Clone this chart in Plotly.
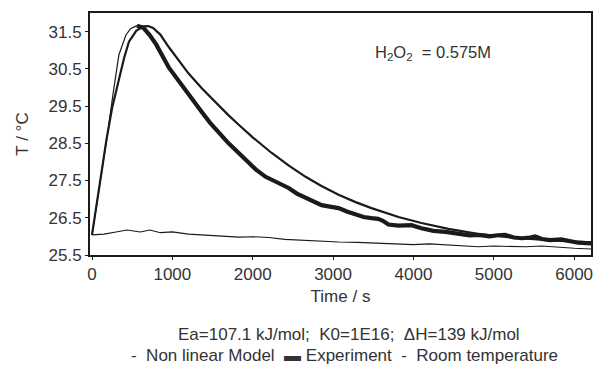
import plotly.graph_objects as go

# ---- data ----
model_time = [0, 60, 120, 180, 250, 335, 400, 460, 550, 640, 700, 760, 850, 957, 1100, 1200,
              1366, 1500, 1600, 1700, 1826, 2000, 2236, 2450, 2658, 2850, 3068, 3280, 3478,
              3700, 3814, 4100, 4435, 4800, 5217, 5700, 6211]
model_temp = [26.04, 26.9, 27.8, 28.6, 29.45, 30.26, 30.8, 31.23, 31.52, 31.64, 31.65, 31.6,
              31.42, 31.08, 30.65, 30.38, 29.98, 29.68, 29.46, 29.25, 29.0, 28.66, 28.24, 27.9,
              27.6, 27.36, 27.12, 26.92, 26.76, 26.6, 26.52, 26.36, 26.2, 26.07, 25.97, 25.89,
              25.84]

exp_time = [0, 60, 110, 149, 200, 260, 335, 422, 480, 560, 640, 720, 800, 957, 1100, 1250,
            1366, 1470, 1578, 1700, 1826, 1950, 2037, 2161, 2236, 2340, 2447, 2550, 2658, 2760,
            2857, 2960, 3068, 3180, 3280, 3380, 3478, 3560, 3620, 3689, 3814, 3975, 4100, 4250,
            4398, 4550, 4700, 4807, 4950, 5050, 5143, 5250, 5350, 5450, 5515, 5600, 5700, 5839,
            5950, 6050, 6211]
exp_temp = [26.04, 26.85, 27.55, 28.05, 28.85, 29.8, 30.88, 31.41, 31.58, 31.66, 31.6, 31.4,
            31.15, 30.53, 30.1, 29.68, 29.34, 29.05, 28.78, 28.5, 28.24, 27.97, 27.8, 27.6,
            27.52, 27.42, 27.3, 27.15, 27.03, 26.93, 26.84, 26.8, 26.76, 26.66, 26.58, 26.52,
            26.49, 26.47, 26.42, 26.32, 26.29, 26.3, 26.22, 26.15, 26.12, 26.07, 26.03, 26.04,
            26.0, 26.03, 26.04, 25.97, 25.95, 25.97, 26.0, 25.93, 25.9, 25.92, 25.86, 25.83,
            25.81]

room_time = [0, 150, 300, 435, 600, 720, 850, 1000, 1200, 1330, 1500, 1700, 1826, 2000, 2200,
             2400, 2571, 2800, 3068, 3300, 3478, 3650, 3814, 4000, 4200, 4398, 4600, 4807,
             5000, 5200, 5400, 5600, 5800, 6000, 6211]
room_temp = [26.04, 26.06, 26.12, 26.17, 26.12, 26.17, 26.1, 26.12, 26.06, 26.04, 26.02, 26.0,
             25.98, 25.99, 25.97, 25.92, 25.9, 25.87, 25.85, 25.84, 25.82, 25.8, 25.8, 25.78,
             25.8, 25.77, 25.75, 25.72, 25.74, 25.73, 25.72, 25.74, 25.7, 25.68, 25.66]

y_ticks = [25.5, 26.5, 27.5, 28.5, 29.5, 30.5, 31.5]
x_ticks = [0, 1000, 2000, 3000, 4000, 5000, 6000]

conc_label = "H<sub>2</sub>O<sub>2</sub>  = 0.575M"
param_label = "Ea=107.1 kJ/mol;  K0=1E16;  \u0394H=139 kJ/mol"
legend_label = "-  Non linear Model  \u25ac Experiment  -  Room temperature"

LINE = "#1a1a1a"
TEXT = "#333333"
FONT = "Arial, Liberation Sans, sans-serif"

# figure geometry (pixels)
W, H = 594, 371
ML, MR, MT, MB = 90, 1, 13, 116
PW, PH = W - ML - MR, H - MT - MB


def px_to_paper(xp, yp):
    return (xp - ML) / PW, (H - MB - yp) / PH


peak = exp_temp.index(max(exp_temp))

fig = go.Figure()
fig.add_trace(go.Scatter(x=room_time, y=room_temp, mode="lines",
                         line=dict(color=LINE, width=1.1), name="Room temperature"))
fig.add_trace(go.Scatter(x=model_time, y=model_temp, mode="lines",
                         line=dict(color=LINE, width=2.2), name="Non linear Model"))
fig.add_trace(go.Scatter(x=exp_time[:peak + 1], y=exp_temp[:peak + 1], mode="lines",
                         line=dict(color=LINE, width=1.2), name="Experiment"))
fig.add_trace(go.Scatter(x=exp_time[peak:], y=exp_temp[peak:], mode="lines",
                         line=dict(color=LINE, width=4.2), name="Experiment"))

px1, py1 = px_to_paper(350, 334)
px2, py2 = px_to_paper(346, 355)

fig.update_layout(
    width=W, height=H,
    margin=dict(l=ML, r=MR, t=MT, b=MB),
    paper_bgcolor="white", plot_bgcolor="white",
    showlegend=False,
    font=dict(family=FONT, color=TEXT, size=17),
    xaxis=dict(range=[-25, 6210], tickvals=x_ticks, ticks="outside", ticklen=3,
               tickcolor=LINE, showline=True, linecolor=LINE, linewidth=2, mirror=True,
               showgrid=False, zeroline=False, tickfont=dict(size=17),
               title=dict(text="Time / s", font=dict(size=17), standoff=7)),
    yaxis=dict(range=[25.5, 32.0], tickvals=y_ticks, tickformat=".1f", ticks="outside",
               ticklen=3, tickcolor=LINE, showline=True, linecolor=LINE, linewidth=2,
               mirror=True, showgrid=False, zeroline=False, tickfont=dict(size=17),
               title=dict(text="T / \u00b0C", font=dict(size=17), standoff=16)),
    annotations=[
        dict(text=conc_label, x=3500, y=30.93, xref="x", yref="y", showarrow=False,
             xanchor="left", yanchor="middle", font=dict(size=16.5, color=TEXT)),
        dict(text=param_label, x=px1, y=py1, xref="paper", yref="paper", showarrow=False,
             xanchor="center", yanchor="middle", font=dict(size=17, color=TEXT)),
        dict(text=legend_label, x=px2, y=py2, xref="paper", yref="paper", showarrow=False,
             xanchor="center", yanchor="middle", font=dict(size=17, color=TEXT)),
    ],
)

fig.write_html("out.html")
